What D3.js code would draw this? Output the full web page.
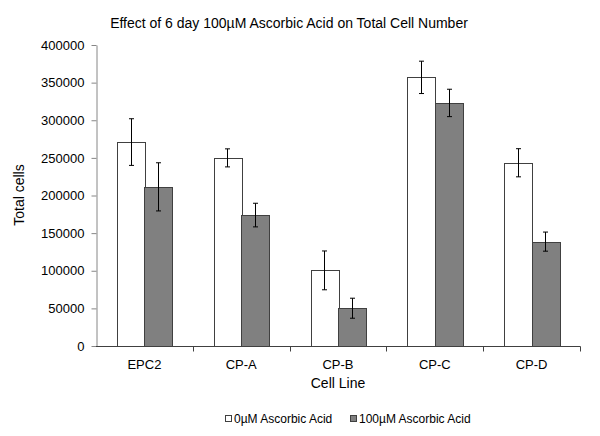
<!DOCTYPE html>
<html><head><meta charset="utf-8">
<script src="https://cdn.jsdelivr.net/npm/d3@7"></script>
<style>body{margin:0;background:#fff}svg{display:block}text{font-family:"Liberation Sans",Arial,sans-serif;fill:#000}</style>
</head><body><svg id="c" width="600" height="436"></svg>
<script>
const categories = ["EPC2","CP-A","CP-B","CP-C","CP-D"];
const seriesNames = ["0\u00b5M Ascorbic Acid","100\u00b5M Ascorbic Acid"];
const values0 = [271000, 250000, 100500, 357000, 243500];
const errors0 = [31000, 12000, 25800, 21500, 18700];
const values100 = [211500, 174000, 50200, 323000, 138700];
const errors100 = [32000, 15700, 13300, 18200, 12700];
const yTicks = [0,50000,100000,150000,200000,250000,300000,350000,400000];
const colors = ["#ffffff","#808080"];

const svg = d3.select("#c");
const x = d3.scaleBand().domain(categories).range([96, 580]).paddingInner(0).paddingOuter(0);
const y = d3.scaleLinear().domain([0,400000]).range([346,45]);
const xs = d3.scaleBand().domain([0,1]).range([0, x.bandwidth()]).paddingInner(0).paddingOuter(0.76);

// title
svg.append("text").attr("x",289).attr("y",27.5).attr("text-anchor","middle").style("font-size","14px")
  .text("Effect of 6 day 100\u00b5M Ascorbic Acid on Total Cell Number");

// y axis
const ya = svg.append("g").attr("transform","translate(96.5,0)")
  .call(d3.axisLeft(y).tickValues(yTicks).tickFormat(d3.format("d")).tickSize(5).tickSizeOuter(0).tickPadding(7));
ya.select(".domain").attr("stroke","#868686");
ya.selectAll(".tick line").attr("stroke","#868686");
ya.selectAll("text").style("font-size","13px").style("font-family","'Liberation Sans',Arial,sans-serif");

const series = [values0, values100];
const errs = [errors0, errors100];
series.forEach((vals,si)=>{
  const g = svg.append("g");
  g.selectAll("rect").data(categories).join("rect")
    .attr("x",(c)=>Math.round(x(c)+xs(si))+0.5)
    .attr("y",(c,i)=>Math.round(y(vals[i]))+0.5)
    .attr("width",Math.round(xs.bandwidth()))
    .attr("height",(c,i)=>346-Math.round(y(vals[i])))
    .attr("fill",colors[si]).attr("stroke","#404040").attr("stroke-width",1);
});
series.forEach((vals,si)=>{
  const g = svg.append("g").attr("stroke","#000").attr("stroke-width",1);
  categories.forEach((c,i)=>{
    const cx = Math.round(x(c)+xs(si)+xs.bandwidth()/2)+0.5;
    const top = y(vals[i]+errs[si][i]), bot = y(vals[i]-errs[si][i]);
    g.append("line").attr("x1",cx).attr("x2",cx).attr("y1",top).attr("y2",bot);
    g.append("line").attr("x1",cx-2.5).attr("x2",cx+2.5).attr("y1",top).attr("y2",top);
    g.append("line").attr("x1",cx-2.5).attr("x2",cx+2.5).attr("y1",bot).attr("y2",bot);
  });
});

// x axis
const xa = svg.append("g").attr("transform","translate(0,346.5)");
xa.append("line").attr("x1",96).attr("x2",580.5).attr("stroke","#404040");
const bounds = categories.map(c=>x(c)+x.bandwidth());
xa.selectAll("line.t").data(bounds).join("line").attr("class","t")
  .attr("x1",d=>Math.round(d)+0.5).attr("x2",d=>Math.round(d)+0.5).attr("y1",0).attr("y2",5).attr("stroke","#404040");
xa.selectAll("text").data(categories).join("text")
  .attr("x",c=>x(c)+x.bandwidth()/2).attr("y",22).attr("text-anchor","middle").style("font-size","13px").text(c=>c);

svg.append("text").attr("x",338).attr("y",388).attr("text-anchor","middle").style("font-size","14px").text("Cell Line");
svg.append("text").attr("transform","translate(24,195) rotate(-90)").attr("text-anchor","middle").style("font-size","14px").text("Total cells");

// legend
const lg = svg.append("g");
const lx = [225, 350];
seriesNames.forEach((n,i)=>{
  lg.append("rect").attr("x",lx[i]+0.5).attr("y",415.5).attr("width",6).attr("height",6)
    .attr("fill",colors[i]).attr("stroke","#404040");
  lg.append("text").attr("x",lx[i]+9).attr("y",423).style("font-size","12px").text(n);
});
</script></body></html>
